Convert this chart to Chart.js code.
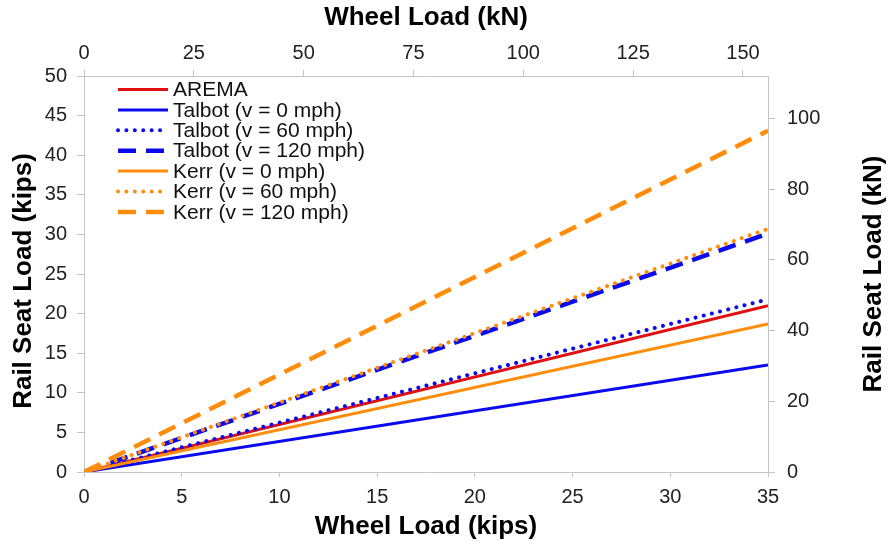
<!DOCTYPE html>
<html>
<head>
<meta charset="utf-8">
<script src="https://cdn.jsdelivr.net/npm/chart.js@4.4.1/dist/chart.umd.min.js"></script>
<style>
  html, body { margin: 0; padding: 0; background: #ffffff; }
  #wrap { width: 891px; height: 542px; }
</style>
</head>
<body>
<div id="wrap"><canvas id="c" width="891" height="542"></canvas></div>
<script>
// Wheel load (kips) at the start and end of each line
const wheelLoadKips = [0, 35];

// Rail seat load (kips) for each method
const aremaKips     = [0, 21.0];
const talbot0Kips   = [0, 13.5];
const talbot60Kips  = [0, 21.8];
const talbot120Kips = [0, 30.1];
const kerr0Kips     = [0, 18.7];
const kerr60Kips    = [0, 30.7];
const kerr120Kips   = [0, 43.1];

const seriesLabels = [
  'AREMA',
  'Talbot (v = 0 mph)',
  'Talbot (v = 60 mph)',
  'Talbot (v = 120 mph)',
  'Kerr (v = 0 mph)',
  'Kerr (v = 60 mph)',
  'Kerr (v = 120 mph)'
];

// Secondary axis ranges (kN)
const topAxisMaxKN = 155.7;
const rightAxisMaxKN = 112;

const RED = '#E01010', BLUE = '#0A0AEE', ORANGE = '#FF8C0A';
const FONT = '"Liberation Sans", Arial, sans-serif';
const AXIS_GREY = '#C4C4C4';

const toPoints = (ys) => wheelLoadKips.map((x, i) => ({ x: x, y: ys[i] }));

const solid = [];
const dotted = [0.01, 8.4];
const dashed = [18, 10];

const styleOf = [
  { c: RED,    d: solid,  w: 3,   cap: 'butt'  },
  { c: BLUE,   d: solid,  w: 3,   cap: 'butt'  },
  { c: BLUE,   d: dotted, w: 4,   cap: 'round' },
  { c: BLUE,   d: dashed, w: 4.5, cap: 'butt'  },
  { c: ORANGE, d: solid,  w: 3,   cap: 'butt'  },
  { c: ORANGE, d: dotted, w: 4,   cap: 'round' },
  { c: ORANGE, d: dashed, w: 4.5, cap: 'butt'  }
];

const seriesValues = [aremaKips, talbot0Kips, talbot60Kips, talbot120Kips, kerr0Kips, kerr60Kips, kerr120Kips];

const datasets = seriesValues.map((vals, i) => ({
  label: seriesLabels[i],
  data: toPoints(vals),
  borderColor: styleOf[i].c,
  backgroundColor: styleOf[i].c,
  borderWidth: styleOf[i].w,
  borderDash: styleOf[i].d,
  borderCapStyle: styleOf[i].cap,
  pointRadius: 0,
  fill: false,
  tension: 0,
  xAxisID: 'x',
  yAxisID: 'y',
  order: seriesValues.length - i
}));

// Legend drawn inside the plot area, upper left
const insideLegend = {
  id: 'insideLegend',
  afterDatasetsDraw(chart) {
    const ctx = chart.ctx;
    const x0 = chart.chartArea.left + 34;
    const len = 50;
    chart.data.datasets.forEach((ds, i) => {
      const y = chart.chartArea.top + 13.5 + i * 20.4;
      ctx.save();
      ctx.strokeStyle = ds.borderColor;
      ctx.lineWidth = ds.borderWidth;
      ctx.lineCap = ds.borderCapStyle;
      ctx.setLineDash(ds.borderDash);
      ctx.beginPath();
      ctx.moveTo(x0, y);
      ctx.lineTo(x0 + len, y);
      ctx.stroke();
      ctx.setLineDash([]);
      ctx.fillStyle = '#111111';
      ctx.font = '21px ' + FONT;
      ctx.textBaseline = 'middle';
      ctx.textAlign = 'left';
      ctx.fillText(ds.label, x0 + len + 5, y + 1);
      ctx.restore();
    });
  }
};

// Vertical axis titles, both reading bottom to top
const sideTitles = {
  id: 'sideTitles',
  afterDraw(chart) {
    const ctx = chart.ctx;
    const ca = chart.chartArea;
    const draw = (text, x, y) => {
      ctx.save();
      ctx.translate(x, y);
      ctx.rotate(-Math.PI / 2);
      ctx.font = 'bold 26px ' + FONT;
      ctx.fillStyle = '#000000';
      ctx.textAlign = 'center';
      ctx.textBaseline = 'middle';
      ctx.fillText(text, 0, 0);
      ctx.restore();
    };
    draw('Rail Seat Load (kips)', 24, (ca.top + ca.bottom) / 2 + 7);
    draw('Rail Seat Load (kN)', chart.width - 17, (ca.top + ca.bottom) / 2);
  }
};

const tickFont = { family: FONT, size: 20 };
const titleFont = { family: FONT, size: 26, weight: 'bold' };
const gridOpts = { display: true, drawOnChartArea: false, drawTicks: true, tickLength: 7, color: AXIS_GREY };
const borderOpts = { display: true, color: AXIS_GREY, width: 1 };

new Chart(document.getElementById('c'), {
  type: 'line',
  data: { datasets: datasets },
  plugins: [insideLegend, sideTitles],
  options: {
    responsive: false,
    animation: false,
    devicePixelRatio: 1,
    layout: { padding: 0 },
    plugins: { legend: { display: false }, tooltip: { enabled: false } },
    scales: {
      x: {
        type: 'linear', position: 'bottom', min: 0, max: 35,
        ticks: { stepSize: 5, font: tickFont, color: '#222', padding: 8, maxRotation: 0 },
        grid: Object.assign({}, gridOpts, { tickLength: 5 }), border: borderOpts,
        title: { display: true, text: 'Wheel Load (kips)', font: titleFont, color: '#000', padding: { top: 0, bottom: 0 } },
        afterFit(s) { s.height = 70; }
      },
      x2: {
        type: 'linear', position: 'top', min: 0, max: topAxisMaxKN,
        ticks: { stepSize: 25, includeBounds: false, font: tickFont, color: '#222', padding: 5, maxRotation: 0 },
        grid: Object.assign({}, gridOpts, { tickLength: 6 }), border: borderOpts,
        title: { display: true, text: 'Wheel Load (kN)', font: titleFont, color: '#000', padding: { top: 2, bottom: 0 } },
        afterFit(s) { s.height = 76; }
      },
      y: {
        type: 'linear', position: 'left', min: 0, max: 50,
        ticks: { stepSize: 5, font: tickFont, color: '#222', padding: 10 },
        grid: gridOpts, border: borderOpts,
        title: { display: false },
        afterFit(s) { s.width = 84; }
      },
      y2: {
        type: 'linear', position: 'right', min: 0, max: rightAxisMaxKN,
        ticks: { stepSize: 20, includeBounds: false, font: tickFont, color: '#222', padding: 12 },
        grid: gridOpts, border: borderOpts,
        title: { display: false },
        afterFit(s) { s.width = 123; }
      }
    }
  }
});
</script>
</body>
</html>
